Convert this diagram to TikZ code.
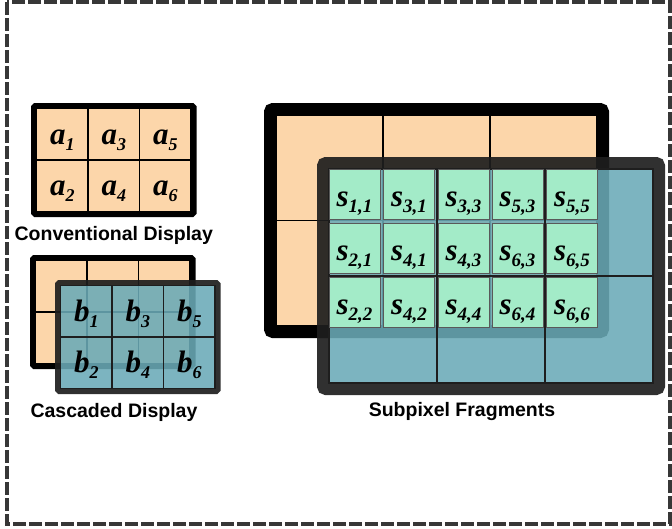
\documentclass[tikz,border=0pt]{standalone}
\usepackage{fontspec}
\setmainfont{Liberation Serif}
\setsansfont{Liberation Sans}
\usetikzlibrary{positioning,fit}

\definecolor{peach}{RGB}{252,214,170}
\definecolor{pixteal}{RGB}{106,170,183}
\definecolor{mint}{RGB}{163,235,200}
\definecolor{darkframe}{RGB}{30,30,30}
\definecolor{dashgray}{RGB}{55,55,55}

% pixel label: letter with lowered subscript
\newcommand{\pix}[3]{{\fontsize{31}{31}\selectfont\bfseries\itshape #1}\raisebox{-6pt}{\fontsize{#3}{#3}\selectfont\bfseries\itshape #2}}

\tikzset{
  cell/.style={draw=black, line width=1.2pt, inner sep=0pt, outer sep=0pt},
  peachcell/.style={cell, fill=peach, minimum width=51.5pt, minimum height=51.5pt},
  tealcell/.style={cell, draw=darkframe, fill=pixteal, fill opacity=0.88, text opacity=1,
    minimum width=51.5pt, minimum height=51.5pt},
  pixlabel/.style={text height=20pt, text depth=0pt},
  frame/.style={draw=black, line width=5.5pt, inner sep=2.75pt, rounded corners=1.5pt},
  tealframe/.style={frame, draw=darkframe, draw opacity=0.92},
  mintcell/.style={draw=black!65, line width=0.7pt, fill=mint, inner sep=0pt, outer sep=0pt,
    minimum width=51pt, minimum height=50pt, text height=25pt, text depth=0pt},
  caption/.style={font=\sffamily\bfseries\fontsize{19.5}{20}\selectfont, inner sep=0pt},
  dashborder/.style={draw=dashgray, line width=4.5pt, dash pattern=on 13pt off 3pt}
}

\begin{document}
\begin{tikzpicture}[x=1pt, y=-1pt]
\useasboundingbox (0,0) rectangle (672,528);
\draw[dashborder] (7,2) rectangle (670,524);

% conventional display
\foreach \col in {0,1,2}
  \foreach \row in {0,1} {
    \pgfmathtruncatemacro{\k}{2*\col+\row+1}
    \node[peachcell, pixlabel] (a\k) at (62.25+51.5*\col, 134.25+51.5*\row) {\pix{a}{\k}{18}};
  }
\node[frame, fit=(a1)(a6)] (conv) {};
\node[caption, below=9pt of conv] (convlabel) {Conventional Display};

% cascaded display
\foreach \col in {0,1,2}
  \foreach \row in {0,1} {
    \pgfmathtruncatemacro{\k}{2*\col+\row+1}
    \node[peachcell] (c\k) at (61.25+51.5*\col, 286.25+51.5*\row) {};
  }
\node[frame, fit=(c1)(c6)] (cascback) {};
\foreach \col in {0,1,2}
  \foreach \row in {0,1} {
    \pgfmathtruncatemacro{\k}{2*\col+\row+1}
    \node[tealcell, pixlabel] (b\k) at (86.25+51.5*\col, 311.25+51.5*\row) {\pix{b}{\k}{18}};
  }
\node[tealframe, fit=(b1)(b6)] (cascfront) {};
\node[caption] (casclabel) at (114,412) {Cascaded Display};

% subpixel fragments
\foreach \col in {0,1,2}
  \foreach \row in {0,1} {
    \pgfmathtruncatemacro{\k}{2*\col+\row+1}
    \node[peachcell, minimum width=107pt, minimum height=105.5pt]
      (p\k) at (329.5+107*\col, 167.75+105.5*\row) {};
  }
\node[frame, line width=12pt, inner sep=6pt, rounded corners=3pt, fit=(p1)(p6)] (bigback) {};
\foreach \col in {0,1,2}
  \foreach \row in {0,1} {
    \pgfmathtruncatemacro{\k}{2*\col+\row+1}
    \node[tealcell, minimum width=108pt, minimum height=107pt]
      (q\k) at (383+108*\col, 222.5+107*\row) {};
  }
\node[tealframe, line width=12pt, inner sep=6pt, rounded corners=3pt, fit=(q1)(q6)] (bigfront) {};
\foreach \x/\ra/\rb/\rc [count=\c] in {354.5/{1,1}/{2,1}/{2,2}, 409/{3,1}/{4,1}/{4,2},
    463.5/{3,3}/{4,3}/{4,4}, 517.5/{5,3}/{6,3}/{6,4}, 572/{5,5}/{6,5}/{6,6}} {
  \node[mintcell] (s\c-1) at (\x,194) {\pix{s}{\ra}{19}};
  \node[mintcell] (s\c-2) at (\x,248) {\pix{s}{\rb}{19}};
  \node[mintcell] (s\c-3) at (\x,302) {\pix{s}{\rc}{19}};
}
\node[caption] (sublabel) at (462,411) {Subpixel Fragments};
\end{tikzpicture}
\end{document}
